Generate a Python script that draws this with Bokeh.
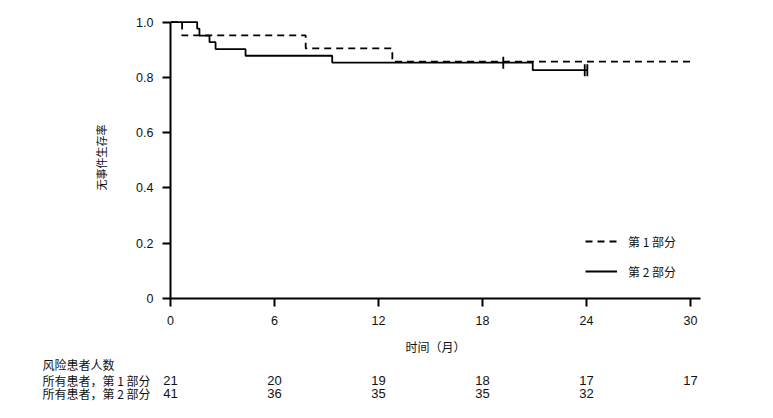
from math import pi
from bokeh.plotting import figure
from bokeh.layouts import column
from bokeh.models import Range1d, FixedTicker, Legend, LegendItem
from bokeh.core.properties import value
from bokeh.embed import file_html
from bokeh.resources import INLINE

# ---- data ----
months = [0, 6, 12, 18, 24, 30]
y_ticks = [0, 0.2, 0.4, 0.6, 0.8, 1.0]
y_tick_labels = ["0", "0.2", "0.4", "0.6", "0.8", "1.0"]

part1_t = [0, 0.67, 7.8, 12.8, 30.0]
part1_s = [1.0, 0.952, 0.905, 0.857, 0.857]

part2_t = [0, 1.54, 1.67, 2.25, 2.6, 4.33, 9.33, 20.9, 24.05]
part2_s = [1.0, 0.976, 0.951, 0.927, 0.902, 0.878, 0.853, 0.826, 0.826]
part2_cens_t = [19.2, 23.9, 24.05]
part2_cens_s = [0.853, 0.826, 0.826]

risk_months1 = [0, 6, 12, 18, 24, 30]
risk_part1 = [21, 20, 19, 18, 17, 17]
risk_months2 = [0, 6, 12, 18, 24]
risk_part2 = [41, 36, 35, 35, 32]

series_names = ["第 1 部分", "第 2 部分"]
row_header = "风险患者人数"
row_labels = ["所有患者，第 1 部分", "所有患者，第 2 部分"]

CJK = "Noto Sans CJK SC"
SANS = "Liberation Sans"
TXT = "#111111"

W = 757
TOP_H = 357
BOT_H = 45
LEFT = 170
RIGHT = 57
X_END = 30.58
PX_PER_UNIT = (W - LEFT - RIGHT) / X_END

# ---- main survival chart ----
p = figure(width=W, height=TOP_H, output_backend="svg", toolbar_location=None,
           title=None, x_range=Range1d(0, X_END), y_range=Range1d(0, 1.02),
           min_border_left=LEFT, min_border_right=RIGHT, min_border_top=16,
           min_border_bottom=57)
p.outline_line_color = None
p.grid.visible = False
p.frame_align = False

for ax in (p.xaxis[0], p.yaxis[0]):
    ax.axis_line_width = 2
    ax.axis_line_color = "black"
    ax.major_tick_line_width = 2
    ax.major_tick_line_color = "black"
    ax.major_tick_out = 8
    ax.major_tick_in = 0
    ax.minor_tick_out = 0
    ax.minor_tick_in = 0
    ax.major_label_text_font = SANS
    ax.major_label_text_font_size = "12.5px"
    ax.major_label_text_color = TXT
    ax.axis_label_text_font = CJK
    ax.axis_label_text_font_style = "normal"
    ax.axis_label_text_color = TXT

p.xaxis.ticker = FixedTicker(ticks=months)
p.xaxis.major_label_standoff = 9
p.xaxis.axis_label = "时间（月）"
p.xaxis.axis_label_text_font_size = "12px"
p.xaxis.axis_label_standoff = 10

p.yaxis.ticker = FixedTicker(ticks=y_ticks)
p.yaxis.major_label_overrides = {t: l for t, l in zip(y_ticks, y_tick_labels)}
p.yaxis.bounds = (0, 1)
p.yaxis.major_label_standoff = 9
p.yaxis.axis_label = "无事件生存率"
p.yaxis.axis_label_text_font_size = "11px"
p.yaxis.axis_label_standoff = 24

r2 = p.step(part2_t, part2_s, mode="after", line_color="black", line_width=1.8)
r1 = p.step(part1_t, part1_s, mode="after", line_color="black", line_width=1.8,
            line_dash="7 5")
p.scatter(part2_cens_t, part2_cens_s, marker="dash", angle=pi / 2, size=12,
          line_color="black", line_width=1.8)

legend = Legend(items=[LegendItem(label=series_names[0], renderers=[r1]),
                       LegendItem(label=series_names[1], renderers=[r2])],
                location=(415, 17), glyph_width=32, glyph_height=20,
                label_height=20, spacing=10, padding=0, margin=0,
                label_standoff=11, background_fill_alpha=0,
                border_line_alpha=0, label_text_font=CJK,
                label_text_font_size="12px", label_text_color=TXT)
p.add_layout(legend)

# ---- number-at-risk table (same x scale as chart) ----
t = figure(width=W, height=BOT_H, output_backend="svg", toolbar_location=None,
           title=None, x_axis_location=None, y_axis_location=None,
           x_range=Range1d(-LEFT / PX_PER_UNIT, (W - LEFT) / PX_PER_UNIT),
           y_range=Range1d(BOT_H, 0), min_border=0)
t.outline_line_color = None
t.grid.visible = False
t.frame_align = False

x_lab = -128 / PX_PER_UNIT
row_y = [7, 22.5, 36]
t.text(x=[x_lab], y=[row_y[0]], text=[row_header], text_font=value(CJK),
       text_font_size="12px", text_baseline="middle", text_color=TXT)
t.text(x=[x_lab, x_lab], y=row_y[1:], text=row_labels, text_font=value(CJK),
       text_font_size="12px", text_baseline="middle", text_color=TXT)
t.text(x=risk_months1, y=[row_y[1]] * len(risk_months1),
       text=[str(n) for n in risk_part1], text_font=value(SANS),
       text_font_size="13px", text_align="center", text_baseline="middle",
       text_color=TXT)
t.text(x=risk_months2, y=[row_y[2]] * len(risk_months2),
       text=[str(n) for n in risk_part2], text_font=value(SANS),
       text_font_size="13px", text_align="center", text_baseline="middle",
       text_color=TXT)

layout = column(p, t, spacing=0)
open("out.html", "w").write(file_html(layout, INLINE))
